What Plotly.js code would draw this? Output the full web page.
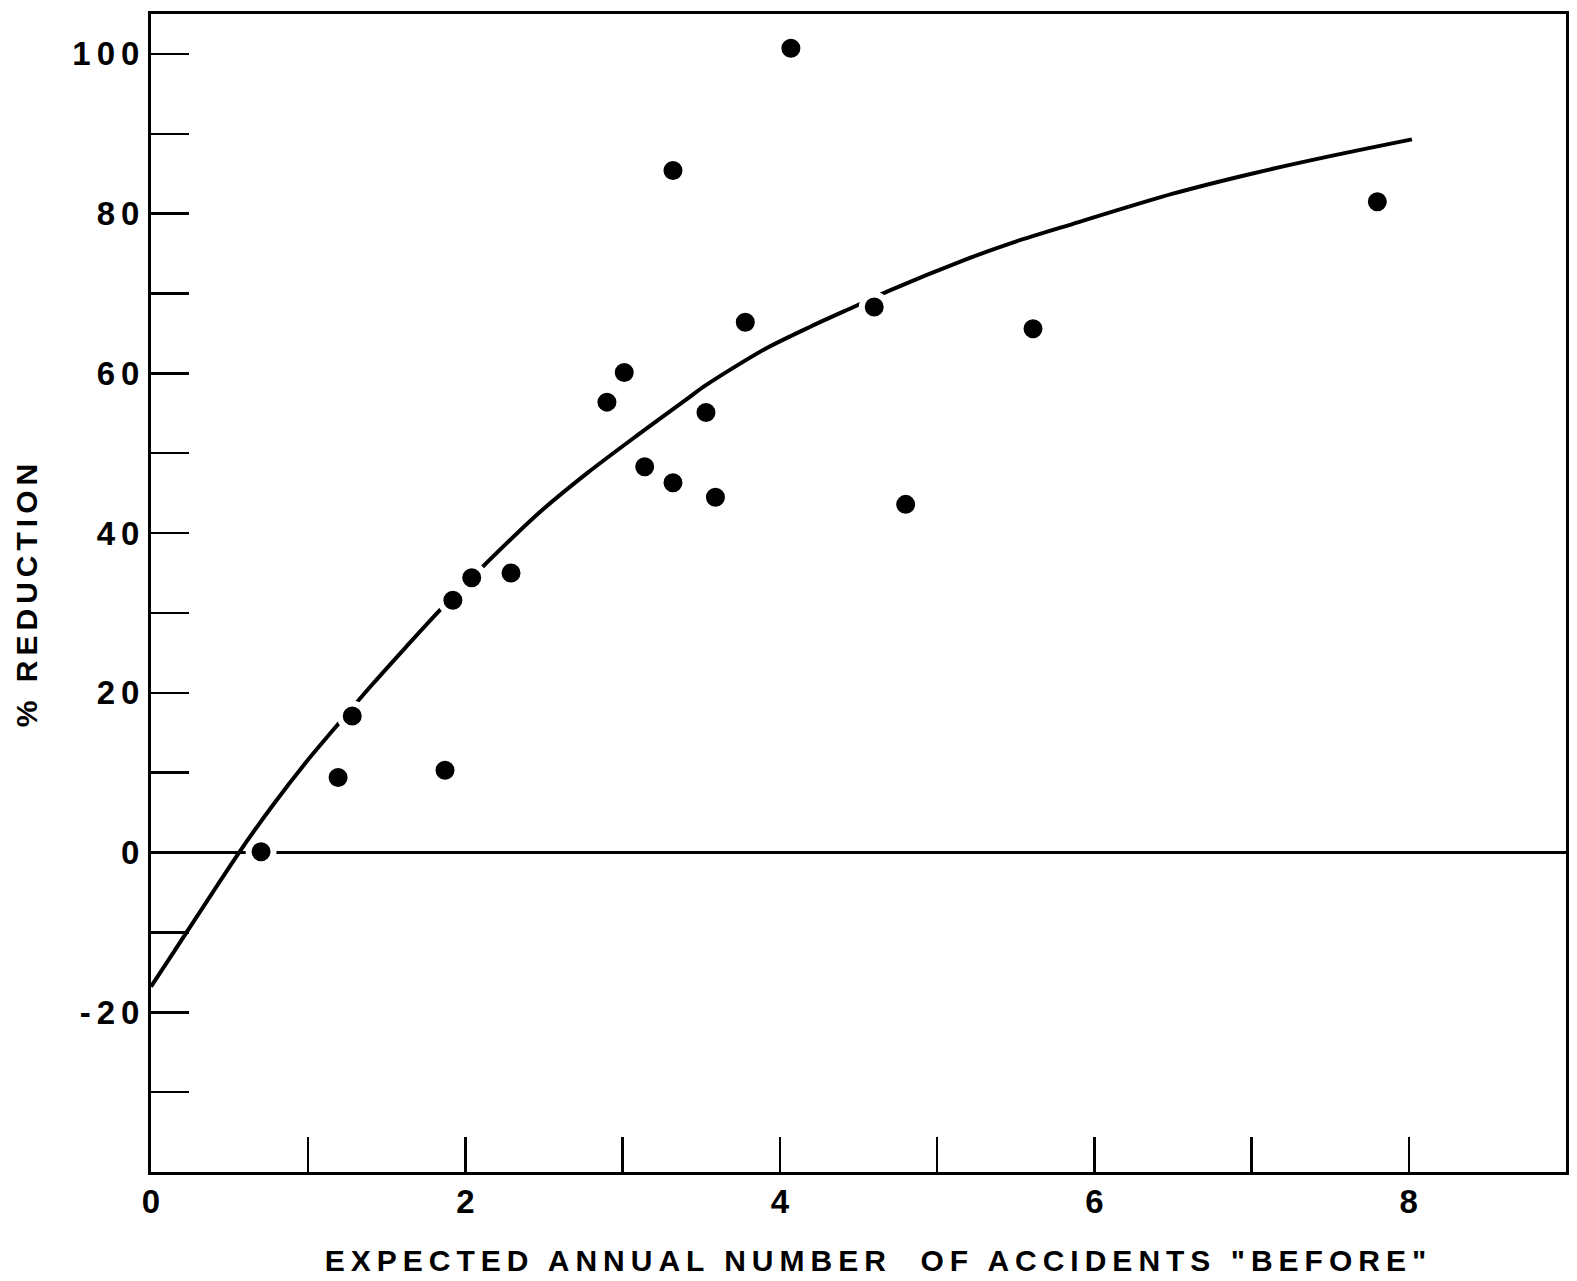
<!DOCTYPE html>
<html>
<head>
<meta charset="utf-8">
<script src="https://cdn.plot.ly/plotly-3.0.1.min.js"></script>
<style>
  html, body { margin: 0; padding: 0; background: #fff; }
  #chart { width: 1577px; height: 1281px; }
</style>
</head>
<body>
<div id="chart"></div>
<script>
// Observed sites: expected annual accidents "before" vs % reduction
const pointsX = [0.70, 1.19, 1.28, 1.87, 1.92, 2.04, 2.29, 2.90, 3.01, 3.14, 3.32, 3.32, 3.53, 3.59, 3.78, 4.07, 4.60, 4.80, 5.61, 7.80];
const pointsY = [0.1, 9.4, 17.1, 10.3, 31.6, 34.4, 35.0, 56.4, 60.1, 48.3, 85.4, 46.3, 55.1, 44.5, 66.4, 100.7, 68.3, 43.6, 65.6, 81.5];

// Fitted curve
const curveX = [0.00, 0.14, 0.56, 0.77, 0.99, 1.20, 1.41, 1.62, 1.83, 2.10, 2.46, 2.78, 3.09, 3.41, 3.52, 3.90, 4.20, 4.49, 4.70, 5.16, 5.50, 5.86, 6.50, 7.00, 7.50, 8.02];
const curveY = [-16.8, -12.6, 0.0, 5.8, 11.4, 16.3, 21.1, 25.7, 30.2, 35.6, 42.4, 47.6, 52.2, 56.8, 58.4, 63.0, 65.9, 68.5, 70.4, 74.1, 76.5, 78.7, 82.5, 85.0, 87.2, 89.3];

// Zero-reduction reference line
const zeroLineX = [0, 9];
const zeroLineY = [0, 0];

// Axis ticks
const xTickVals = [0, 1, 2, 3, 4, 5, 6, 7, 8];
const xTickText = ['0', '', '2', '', '4', '', '6', '', '8'];
const yTickVals = [-30, -20, -10, 0, 10, 20, 30, 40, 50, 60, 70, 80, 90, 100];
const yTickText = ['', '-20', '', '0', '', '20', '', '40', '', '60', '', '80', '', '100'];

const xTitle = 'EXPECTED ANNUAL NUMBER  OF ACCIDENTS "BEFORE"';
const yTitle = '% REDUCTION';

const tickFont = { family: 'Liberation Sans, Arial, sans-serif', size: 33, color: '#000', weight: 'bold' };
const titleFont = { family: 'Liberation Sans, Arial, sans-serif', size: 30, color: '#000', weight: 'bold' };

const traces = [
  {
    x: zeroLineX, y: zeroLineY, mode: 'lines', type: 'scatter',
    line: { color: '#000', width: 3 }, hoverinfo: 'skip', showlegend: false
  },
  {
    x: curveX, y: curveY, mode: 'lines', type: 'scatter',
    line: { color: '#000', width: 4, shape: 'spline', smoothing: 0.8 },
    showlegend: false
  },
  {
    x: pointsX, y: pointsY, mode: 'markers', type: 'scatter',
    marker: { color: '#000', size: 25, symbol: 'circle', line: { color: '#fff', width: 6 } },
    showlegend: false
  }
];

const layout = {
  width: 1577, height: 1281,
  paper_bgcolor: '#fff', plot_bgcolor: '#fff',
  margin: { l: 151, r: 11, t: 14, b: 109 },
  showlegend: false,
  xaxis: {
    range: [0, 9], showgrid: false, zeroline: false,
    showline: true, mirror: true, linecolor: '#000', linewidth: 3,
    ticks: 'inside', ticklen: 35, tickwidth: 2.5, tickcolor: '#000',
    tickmode: 'array', tickvals: xTickVals, ticktext: xTickText,
    tickfont: tickFont, ticklabelstandoff: -2,
    title: { text: xTitle, font: titleFont, standoff: 32 }
  },
  yaxis: {
    range: [-40, 105], showgrid: false, zeroline: false,
    showline: true, mirror: true, linecolor: '#000', linewidth: 3,
    ticks: 'inside', ticklen: 38, tickwidth: 2.5, tickcolor: '#000',
    tickmode: 'array', tickvals: yTickVals, ticktext: yTickText,
    tickfont: tickFont, ticklabelstandoff: 2,
    title: { text: yTitle, font: titleFont, standoff: 38 }
  }
};

Plotly.newPlot('chart', traces, layout, { staticPlot: true, displayModeBar: false }).then(function () {
  document.querySelectorAll('.xtick text').forEach(function (t) {
    t.style.letterSpacing = '6px';
    t.setAttribute('dx', '3');
  });
  document.querySelectorAll('.ytick text').forEach(function (t) {
    t.style.letterSpacing = '6px';
    t.setAttribute('dx', '6');
  });
  document.querySelectorAll('.g-xtitle text').forEach(function (t) {
    t.style.letterSpacing = '6px';
    t.setAttribute('dx', '20');
  });
  document.querySelectorAll('.g-ytitle text').forEach(function (t) {
    t.style.letterSpacing = '5px';
  });
});
</script>
</body>
</html>
